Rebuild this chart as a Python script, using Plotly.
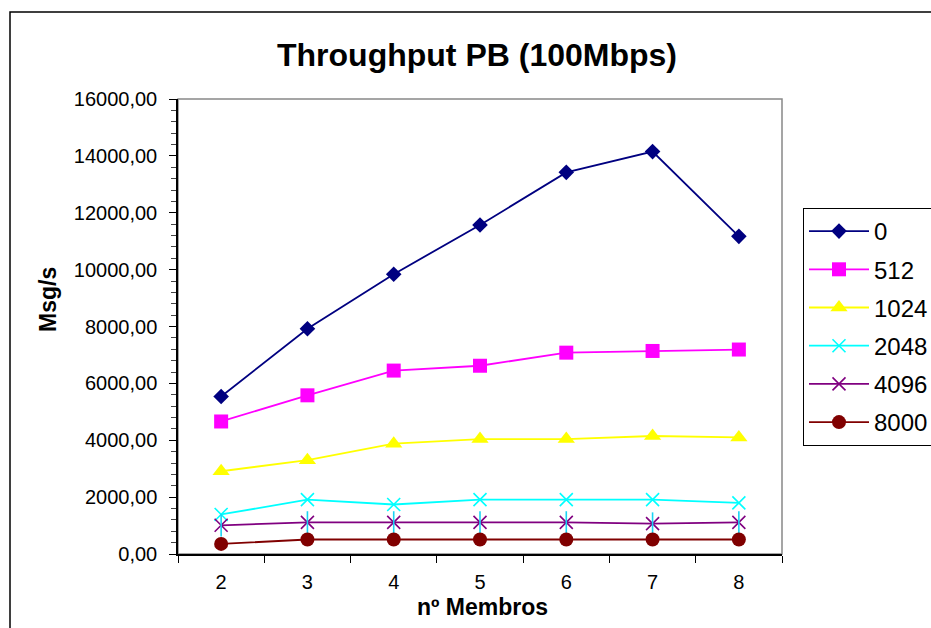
import plotly.graph_objects as go

# Data: throughput (messages per second) by number of group members, per message size
members = [2, 3, 4, 5, 6, 7, 8]
size_labels = ["0", "512", "1024", "2048", "4096", "8000"]
tp_0 = [5540, 7920, 9840, 11570, 13420, 14150, 11170]
tp_512 = [4660, 5580, 6450, 6620, 7080, 7140, 7190]
tp_1024 = [2910, 3300, 3880, 4040, 4040, 4150, 4100]
tp_2048 = [1390, 1910, 1740, 1910, 1910, 1910, 1800]
tp_4096 = [1010, 1110, 1110, 1110, 1110, 1070, 1110]
tp_8000 = [355, 510, 510, 510, 510, 510, 510]
y_ticks = [0, 2000, 4000, 6000, 8000, 10000, 12000, 14000, 16000]

series = [tp_0, tp_512, tp_1024, tp_2048, tp_4096, tp_8000]
colors = ["#000080", "#FF00FF", "#FFFF00", "#00FFFF", "#800080", "#800000"]
symbols = ["diamond", "square", "triangle-up", "x-thin-open", "x-thin-open", "circle"]
sizes = [12, 14, 15, 13, 13, 14]

FONT = "Liberation Sans, Arial, sans-serif"
W, H = 931, 628
ML, MR, MT, MB = 178, W - 782, 99, H - 554
PW, PH = W - ML - MR, H - MT - MB


def px_x(p):
    return (p - ML) / PW


def px_y(p):
    return (H - MB - p) / PH


cats = [str(m) for m in members]
fig = go.Figure()

for name, vals, col, sym, sz in zip(size_labels, series, colors, symbols, sizes):
    fig.add_trace(go.Scatter(
        x=cats, y=vals, name=name, legendgroup=name, mode="lines+markers",
        line=dict(color=col, width=1.8),
        marker=dict(symbol=sym, size=sz, color=col,
                    line=dict(color=col, width=1.6 if "open" in sym else 0)),
    ))
    if name == "4096":
        # vertical stroke that turns the x into a star marker
        fig.add_trace(go.Scatter(
            x=cats, y=vals, mode="markers", legendgroup=name, showlegend=False,
            hoverinfo="skip",
            marker=dict(symbol="line-ns-open", size=sz + 3,
                        line=dict(color=col, width=1.6)),
        ))

# grey plot-area frame
fig.add_shape(type="rect", xref="x domain", yref="y domain", x0=0, x1=1, y0=0, y1=1,
              line=dict(color="#888888", width=1.5), layer="below")
# outer chart border
fig.add_shape(type="rect", xref="paper", yref="paper",
              x0=px_x(10), x1=px_x(940), y0=px_y(12), y1=px_y(640),
              line=dict(color="black", width=1.5))

fig.add_annotation(text="<b>Throughput PB (100Mbps)</b>", xref="paper", yref="paper",
                   x=px_x(477), y=px_y(55), xanchor="center", yanchor="middle",
                   showarrow=False, font=dict(family=FONT, size=32, color="black"))
fig.add_annotation(text="<b>Msg/s</b>", xref="paper", yref="paper", textangle=-90,
                   x=px_x(48), y=px_y(300), xanchor="center", yanchor="middle",
                   showarrow=False, font=dict(family=FONT, size=23, color="black"))
fig.add_annotation(text="<b>nº Membros</b>", xref="paper", yref="paper",
                   x=px_x(482), y=px_y(607), xanchor="center", yanchor="middle",
                   showarrow=False, font=dict(family=FONT, size=23, color="black"))

fig.update_layout(
    width=W, height=H,
    margin=dict(l=ML, r=MR, t=MT, b=MB, pad=0, autoexpand=False),
    paper_bgcolor="white", plot_bgcolor="white",
    separators=",.",
    font=dict(family=FONT, color="black"),
    showlegend=True,
    legend=dict(
        x=px_x(803), y=px_y(208), xanchor="left", yanchor="top",
        bordercolor="black", borderwidth=1, bgcolor="white",
        font=dict(family=FONT, size=24, color="black"),
        itemwidth=60, tracegroupgap=4,
    ),
    xaxis=dict(
        type="category", range=[-0.5, 6.5], tickson="boundaries",
        showgrid=False, zeroline=False,
        showline=True, linecolor="black", linewidth=1.5,
        ticks="outside", ticklen=7, tickcolor="black", tickwidth=1.2,
        ticklabelstandoff=9,
        tickfont=dict(family=FONT, size=20, color="black"),
        fixedrange=True,
    ),
    yaxis=dict(
        range=[0, 16000], tickvals=y_ticks, tickformat=".2f",
        showgrid=False, zeroline=False,
        showline=True, linecolor="black", linewidth=1.5,
        ticks="outside", ticklen=7, tickcolor="black", tickwidth=1.2,
        ticklabelstandoff=8,
        minor=dict(dtick=400, ticks="outside", ticklen=5, tickcolor="#444444", tickwidth=1),
        tickfont=dict(family=FONT, size=20, color="black"),
        fixedrange=True,
    ),
)

fig.write_html("out.html")
